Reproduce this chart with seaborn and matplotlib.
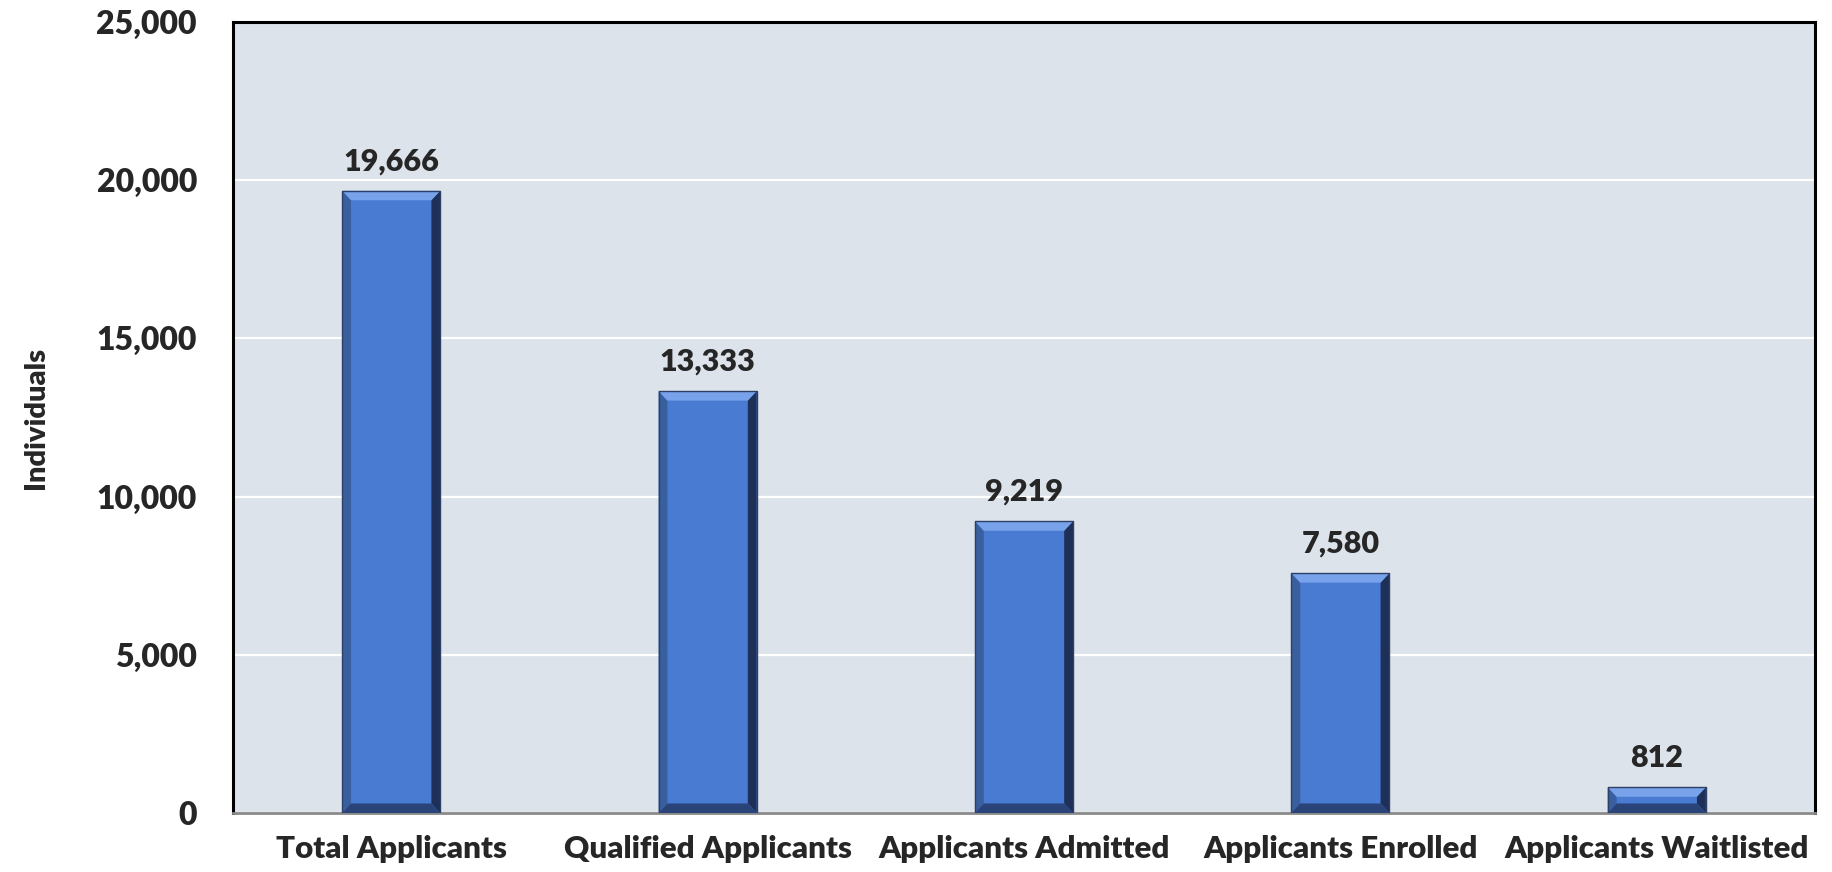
import matplotlib
matplotlib.use('Agg')
import matplotlib.pyplot as plt
from matplotlib.patches import Polygon
import seaborn as sns
import pandas as pd

# chart data
categories = ['Total Applicants', 'Qualified Applicants', 'Applicants Admitted',
              'Applicants Enrolled', 'Applicants Waitlisted']
counts = [19666, 13333, 9219, 7580, 812]
yticks = [0, 5000, 10000, 15000, 20000, 25000]

df = pd.DataFrame({'cat': categories, 'n': counts})

sns.set_style('white')
plt.rcParams['font.family'] = ['Lato', 'DejaVu Sans']

fig = plt.figure(figsize=(18.32, 8.72), dpi=100)
ax = fig.add_axes([0.1272, 0.0677, 0.8635, 0.9071])
ax.set_facecolor('#dde3ea')

sns.barplot(data=df, x='cat', y='n', color='#4a7bd3', width=0.31,
            saturation=1, ax=ax, zorder=3, edgecolor='none')

W = 'heavy'
ax.set_ylim(0, 25000)
ax.set_yticks(yticks)
ax.set_yticklabels([f'{v:,}' for v in yticks], fontsize=23, fontweight=W)
ax.set_xticks(range(len(categories)))
ax.set_xticklabels(categories, fontsize=22.5, fontweight=W)
ax.tick_params(axis='x', pad=16, length=0)
ax.tick_params(axis='y', pad=26, length=0)
ax.set_xlabel('')
ax.set_ylabel('Individuals', fontsize=21, fontweight=W, labelpad=34)

ax.grid(axis='y', color='white', linewidth=1.6, zorder=0)
ax.set_axisbelow(True)
for side in ['left', 'top', 'right']:
    ax.spines[side].set_color('black')
    ax.spines[side].set_linewidth(2.2)
ax.spines['bottom'].set_color('#8a8a8a')
ax.spines['bottom'].set_linewidth(2)

# bevel look on each bar
bx = 0.028
by = 300
for p in list(ax.patches):
    x0, y0 = p.get_x(), p.get_y()
    w, h = p.get_width(), p.get_height()
    x1, y1 = x0 + w, y0 + h
    byy = min(by, h / 2.5)
    top = [(x0, y1), (x1, y1), (x1 - bx, y1 - byy), (x0 + bx, y1 - byy)]
    right = [(x1, y1), (x1, y0), (x1 - bx, y0 + byy), (x1 - bx, y1 - byy)]
    bottom = [(x0, y0), (x1, y0), (x1 - bx, y0 + byy), (x0 + bx, y0 + byy)]
    left = [(x0, y0), (x0, y1), (x0 + bx, y1 - byy), (x0 + bx, y0 + byy)]
    for pts, c in [(left, '#3a5f9f'), (right, '#1e3058'),
                   (bottom, '#2a4479'), (top, '#78a2ea')]:
        ax.add_patch(Polygon(pts, closed=True, facecolor=c, edgecolor='none', zorder=4))
    ax.plot([x0, x1, x1, x0, x0], [y0, y0, y1, y1, y0], color='#2c3f66', lw=1, zorder=5)

for i, v in enumerate(counts):
    ax.annotate(f'{v:,}', (i, v), xytext=(0, 11), textcoords='offset points',
                ha='center', va='bottom', fontsize=22, fontweight=W, zorder=6)

ax.set_xlim(-0.5, len(categories) - 0.5)
ax.set_ylim(0, 25000)

fig.savefig('out.png', dpi=100)
